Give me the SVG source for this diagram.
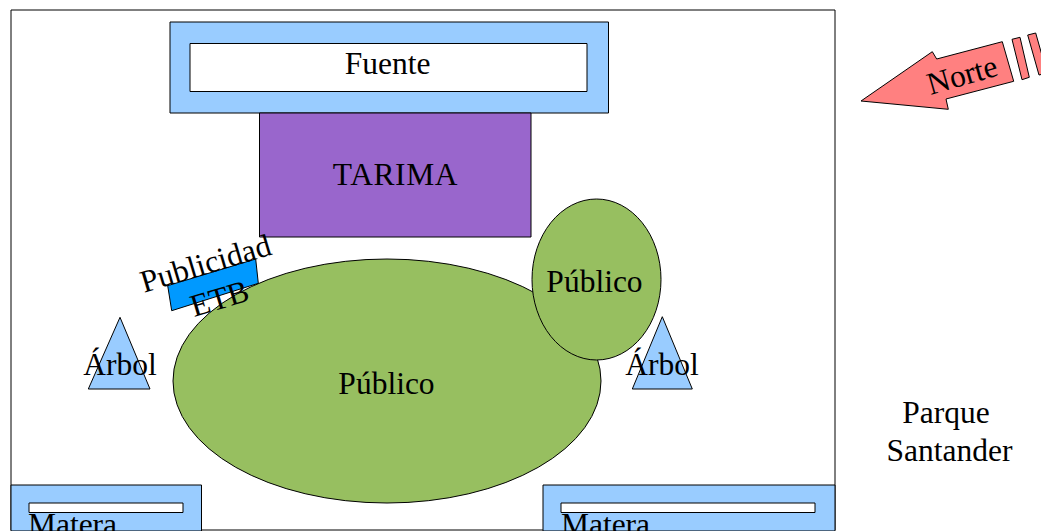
<svg xmlns="http://www.w3.org/2000/svg" width="1041" height="531" viewBox="0 0 1041 531">
<style>
.s{stroke:#000;stroke-width:1;stroke-linejoin:round}
.b{fill:#99ccff}
.w{fill:#fff}
.g{fill:#97bf60}
.r{fill:#ff8080}
text{font-family:"Liberation Serif","Times New Roman",serif;font-size:31.5px;fill:#000;text-anchor:middle}
</style>
<rect width="1041" height="531" fill="#fff"/>
<g id="parque"><rect class="s" x="11" y="10" width="824" height="520" fill="#fff"/></g>
<g id="fuente">
<rect class="s b" x="170" y="22" width="438.500" height="91"/>
<rect class="s w" x="190" y="43.500" width="397" height="48"/>
<text x="387.500" y="74">Fuente</text>
</g>
<g id="tarima">
<rect class="s" x="259.500" y="113" width="271.500" height="124" fill="#9966cc"/>
<text x="395.500" y="185" letter-spacing="0.600">TARIMA</text>
</g>
<g id="publicidad">
<polygon class="s" points="167.700,285.700 255.700,259 258.300,283.300 171.700,310.700" fill="#0099ff"/>
</g>
<g id="publico-grande">
<ellipse class="s g" cx="387" cy="381" rx="214" ry="122"/>
<text x="386.500" y="393.500">Público</text>
</g>
<g id="publico-pequeno">
<ellipse class="s g" cx="596.500" cy="279.500" rx="64.500" ry="80.500"/>
<text x="594.500" y="291.500">Público</text>
</g>
<g id="publicidad-texto">
<text transform="translate(208.500 273.500) rotate(-16.500)">Publicidad</text>
<text transform="translate(222.500 308.500) rotate(-16.500)">ETB</text>
</g>
<g id="arbol-izq">
<polygon class="s b" points="120,317.300 150,389 88.300,389"/>
<text x="120" y="375">Árbol</text>
</g>
<g id="arbol-der">
<polygon class="s b" points="662.300,316.700 692.300,389 632.300,389"/>
<text x="662" y="375">Árbol</text>
</g>
<g id="matera-izq">
<rect class="s b" x="11" y="485" width="190.500" height="46"/>
<rect class="s w" x="29" y="503" width="154" height="9.500"/>
<text x="72.500" y="535">Matera</text>
</g>
<g id="matera-der">
<rect class="s b" x="543" y="485" width="292" height="46"/>
<rect class="s w" x="561" y="503" width="254" height="9.500"/>
<text x="605.500" y="535">Matera</text>
</g>
<g id="norte">
<polygon class="s r" points="861,101 932.300,51.700 936.700,59 1002.300,41.700 1013.700,81.300 946,99 948.300,109.300"/>
<polygon class="s r" points="1012,39.300 1020,37.300 1029.300,77.300 1022,79.700"/>
<polygon class="s r" points="1027.700,35 1035.700,33 1047,73 1039,75"/>
<text transform="translate(965 85) rotate(-16)">Norte</text>
</g>
<g id="parque-santander">
<text x="946" y="423">Parque</text>
<text x="949.500" y="461">Santander</text>
</g>
</svg>
